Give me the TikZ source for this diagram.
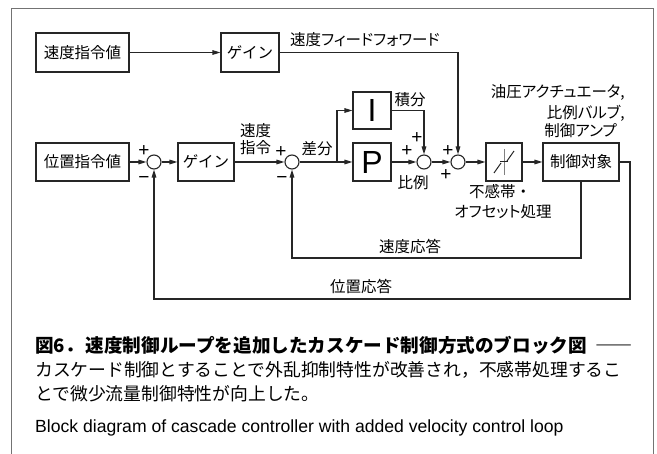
\documentclass[tikz,border=0pt]{standalone}
\usepackage{fontspec}
\setmainfont{Noto Sans CJK JP}
\newfontfamily\lat{Liberation Sans}
\newfontfamily\jpp[RawFeature=+palt]{Noto Sans CJK JP}
\usetikzlibrary{arrows.meta}
\begin{document}
\begin{tikzpicture}[x=1pt,y=-1pt,
 ln/.style={line width=1.1pt, draw=black!85},
 arr/.style={ln, -{Triangle[length=8pt,width=4.6pt]}},
 blk/.style={draw=black!85, line width=1.1pt, inner sep=0pt, font=\fontsize{15.5}{16}\selectfont},
 sumc/.style={circle, draw=black!85, line width=1.1pt, minimum size=14pt, inner sep=0pt},
 lbl/.style={inner sep=0pt, font=\fontsize{15.5}{16}\selectfont},
 lblp/.style={inner sep=0pt, font=\jpp\fontsize{15.5}{16}\selectfont},
 sgn/.style={inner sep=0pt, font=\lat\fontsize{19}{19}\selectfont},
 frame/.style={draw=black!55, line width=1pt}]
\useasboundingbox (0,0) rectangle (657,454);
% frame
\draw[frame] (11,454) -- (11,9) -- (653,9) -- (653,454);
% blocks
\node[blk, minimum width=93pt, minimum height=39pt] (vref) at (82.5,52.5) {速度指令値};
\node[blk, minimum width=58pt, minimum height=39pt] (gff) at (250,52.5) {ゲイン};
\node[blk, minimum width=93pt, minimum height=38pt] (pref) at (82.5,162) {位置指令値};
\node[sumc] (s1) at (154,162) {};
\node[blk, minimum width=56pt, minimum height=38pt] (g2) at (206,162) {ゲイン};
\node[sumc] (s2) at (292,162) {};
\node[blk, minimum width=38pt, minimum height=37pt, font=\lat\fontsize{32}{32}\selectfont] (I) at (372,110.5) {I};
\node[blk, minimum width=38pt, minimum height=38pt, font=\lat\fontsize{32}{32}\selectfont] (P) at (372,162) {P};
\node[sumc] (s3) at (424,162) {};
\node[sumc] (s4) at (458,162) {};
\node[blk, minimum width=36pt, minimum height=38pt] (db) at (504,162) {};
\node[blk, minimum width=76pt, minimum height=38pt] (plant) at (581,162) {制御対象};
% deadband symbol
\draw[gray, line width=0.6pt] ([yshift=-13pt]db.center) -- ([yshift=13pt]db.center);
\draw[black!85, line width=1pt] ([xshift=-10pt,yshift=-11pt]db.center) -- ([xshift=-3pt,yshift=-1pt]db.center);
\draw[black!85, line width=1pt] ([xshift=-4pt]db.center) -- ([xshift=4pt]db.center);
\draw[black!85, line width=1pt] ([xshift=3pt,yshift=1pt]db.center) -- ([xshift=10pt,yshift=11pt]db.center);
% coordinates
\coordinate (br) at (337,162);
\coordinate (vfb) at (581,258);
\coordinate (pfb1) at (630,162);
\coordinate (pfb2) at (630,299);
% connectors
\draw[arr] (vref) -- (gff);
\draw[arr] (gff.east) -| (s4.north);
\draw[arr] (pref) -- (s1);
\draw[arr] (s1) -- (g2);
\draw[arr] (g2) -- (s2);
\draw[ln] (s2) -- (br);
\draw[arr] (br) -- (P);
\draw[arr] (br) |- (I.west);
\draw[arr] (I.east) -| (s3.north);
\draw[arr] (P) -- (s3);
\draw[arr] (s3) -- (s4);
\draw[arr] (s4) -- (db);
\draw[arr] (db) -- (plant);
\draw[arr] (plant.south) -- (vfb) -| (s2.south);
\draw[arr] (plant.east) -- (pfb1) -- (pfb2) -| (s1.south);
% labels
\node[lblp, anchor=west] (lff) at (290,40) {速度フィードフォワード};
\node[lbl, anchor=west] (lvc1) at (240,131) {速度};
\node[lbl, anchor=west] (lvc2) at (240,148) {指令};
\node[lbl] (ldiff) at (317,149) {差分};
\node[lbl] (lint) at (410,100) {積分};
\node[lbl] (lprop) at (413,183) {比例};
\node[lbl] (ldb1) at (500,192) {不感帯・};
\node[lblp] (ldb2) at (503,212) {オフセット処理};
\node[lblp, anchor=east] (la1) at (625,92) {油圧アクチュエータ,};
\node[lblp, anchor=east] (la2) at (625,113) {比例バルブ,};
\node[lblp, anchor=east] (la3) at (617,131) {制御アンプ};
\node[lbl] (lvr) at (410,247) {速度応答};
\node[lbl] (lpr) at (361,287) {位置応答};
% signs
\node[sgn] (p1) at (144,151) {+};
\node[sgn] (m1) at (144,180) {−};
\node[sgn] (p2) at (281,152) {+};
\node[sgn] (m2) at (282,180) {−};
\node[sgn] (p3a) at (417,138) {+};
\node[sgn] (p3b) at (407,151) {+};
\node[sgn] (p4a) at (448,151) {+};
\node[sgn] (p4b) at (446,175) {+};
% caption
\node[inner sep=0pt, anchor=west, font=\bfseries\fontsize{18.6}{19}\selectfont] (cap1) at (35,345) {図6．\hspace{2pt}速度制御ループを追加したカスケード制御方式のブロック図\hspace{9pt}――};
\node[inner sep=0pt, anchor=west, font=\fontsize{17.8}{18}\selectfont] (cap2) at (35,370) {カスケード制御とすることで外乱抑制特性が改善され，不感帯処理するこ};
\node[inner sep=0pt, anchor=west, font=\fontsize{17.8}{18}\selectfont] (cap3) at (35,394) {とで微少流量制御特性が向上した。};
\node[inner sep=0pt, anchor=west, font=\lat\fontsize{17.6}{18}\selectfont] (cap4) at (35,428) {Block diagram of cascade controller with added velocity control loop};
\end{tikzpicture}
\end{document}
